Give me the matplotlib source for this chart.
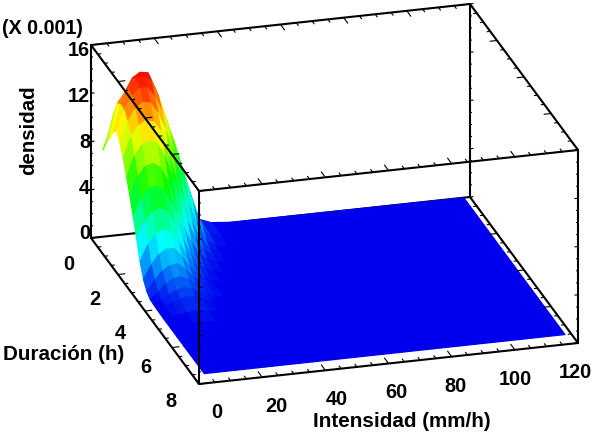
import numpy as np
import matplotlib
matplotlib.use('Agg')
import matplotlib.pyplot as plt
from matplotlib.collections import PolyCollection
from matplotlib.colors import LinearSegmentedColormap, Normalize

plt.rcParams['font.family'] = ['Liberation Sans', 'DejaVu Sans']
plt.rcParams['font.weight'] = 'bold'

# grid
intensidad = [3.8, 6.2, 8.6, 11, 13.4, 15.8, 18.2, 20.6, 23, 25.4, 28, 31, 34, 38, 44, 118]
duracion = [0, 0.25, 0.5, 0.75, 1, 1.25, 1.5, 1.75, 2, 2.25, 2.5, 2.75, 3, 3.25, 3.5, 3.75,
            4, 4.5, 5, 5.5, 6, 6.5, 7, 7.5]
# density (x 0.001), one row per duracion
densidad = [
    [7.2, 8.9, 10, 10.8, 11, 10.6, 9.6, 8.3, 6.7, 5, 3.3, 1.6, .6, .2, .05, 0],
    [8.2, 10.5, 11.6, 12.5, 12.8, 12.3, 11.2, 9.7, 7.8, 5.9, 3.9, 1.9, .7, .22, .05, 0],
    [9, 11.7, 12.6, 13.7, 14.1, 14, 12.6, 10.7, 8.7, 6.6, 4.4, 1.9, .6, .2, .05, 0],
    [9.8, 12, 13.2, 14, 14.1, 13.8, 12.3, 10.4, 8.5, 6.4, 4.2, 1.8, .55, .18, .05, 0],
    [10.3, 11.9, 13, 13.6, 13.6, 12.8, 11.5, 9.8, 7.9, 5.7, 3.5, 1.5, .45, .15, .04, 0],
    [9.7, 11.3, 12.3, 12.8, 12.7, 11.8, 10.4, 8.6, 6.3, 4.2, 2.4, .9, .3, .1, .03, 0],
    [8.8, 10.4, 11.3, 11.7, 11.5, 10.6, 8.5, 6.6, 4.6, 2.9, 1.5, .55, .2, .08, .02, 0],
    [7.6, 9.2, 10.1, 10.4, 10.1, 9, 7.3, 5.2, 3.4, 2, .95, .35, .14, .06, .02, 0],
    [6.4, 7.9, 8.7, 8.9, 8.5, 7.3, 5.4, 3.4, 2.1, 1.1, .5, .2, .1, .04, .02, 0],
    [5, 6.4, 7.2, 7.4, 7, 5.8, 4.4, 2.7, 1.5, .75, .3, .12, .06, .03, .01, 0],
    [3.6, 4.9, 5.6, 5.9, 5.6, 4.5, 3.3, 2, 1.05, .5, .22, .1, .05, .02, .01, 0],
    [2.1, 3.4, 4.2, 4.5, 4.3, 3.4, 2.4, 1.45, .75, .36, .16, .07, .04, .02, .01, 0],
    [1, 2.1, 2.9, 3.3, 3.3, 2.6, 1.7, 1.05, .55, .26, .12, .05, .03, .01, 0, 0],
    [.4, 1.2, 1.9, 2.3, 2.4, 1.9, 1.25, .75, .4, .2, .09, .04, .02, .01, 0, 0],
    [.1, .6, 1.2, 1.6, 1.7, 1.4, .9, .55, .3, .15, .07, .03, .015, 0, 0, 0],
    [.05, .3, .7, 1, 1.2, 1, .65, .4, .2, .1, .05, .02, .01, 0, 0, 0],
    [.03, .15, .4, .65, .8, .7, .45, .28, .15, .07, .035, .015, 0, 0, 0, 0],
    [0, .05, .15, .3, .38, .3, .2, .13, .07, .03, .015, 0, 0, 0, 0, 0],
    [0, .02, .06, .12, .18, .14, .1, .06, .03, .015, 0, 0, 0, 0, 0, 0],
    [0, .01, .02, .05, .08, .06, .04, .03, .01, 0, 0, 0, 0, 0, 0, 0],
    [0, 0, .01, .02, .04, .03, .02, .01, 0, 0, 0, 0, 0, 0, 0, 0],
    [0, 0, 0, .01, .02, .01, .01, 0, 0, 0, 0, 0, 0, 0, 0, 0],
    [0, 0, 0, 0, .01, 0, 0, 0, 0, 0, 0, 0, 0, 0, 0, 0],
    [0, 0, 0, 0, 0, 0, 0, 0, 0, 0, 0, 0, 0, 0, 0, 0],
]
i_ticks = [0, 20, 40, 60, 80, 100, 120]
d_ticks = [0, 2, 4, 6, 8]
z_ticks = [0, 4, 8, 12, 16]


def project(i, d, z):
    # box as seen in the picture, result in pixels
    x = 91 + 379 * i / 120 + 108 * d / 8
    y = 239 - 41 * i / 120 + 146 * d / 8 - 193 * z / 16
    return x, y


fig = plt.figure(figsize=(6, 4.35), dpi=100)
ax = fig.add_axes([0, 0, 1, 1])
ax.set_xlim(0, 600)
ax.set_ylim(435, 0)
ax.axis('off')


def edge(p0, p1, lw=1.5, zorder=3):
    x0, y0 = project(*p0)
    x1, y1 = project(*p1)
    ax.plot([x0, x1], [y0, y1], color='black', lw=lw, zorder=zorder, solid_capstyle='round')


def tick(p, dirn, ln):
    edge(p, (p[0] + dirn[0] * ln, p[1] + dirn[1] * ln, p[2] + dirn[2] * ln), lw=0.8, zorder=3)


# back of the box goes under the surface
edge((0, 0, 0), (0, 0, 16), zorder=1)
edge((0, 0, 0), (120, 0, 0), zorder=1)
edge((0, 0, 16), (120, 0, 16), zorder=1)
edge((120, 0, 0), (120, 0, 16), zorder=1)
edge((0, 0, 0), (0, 8, 0), zorder=1)
edge((120, 0, 0), (120, 8, 0), zorder=1)

# surface, far cells first
cmap = LinearSegmentedColormap.from_list(
    'rainbow3d', ['#0000ee', '#00ffff', '#00ff00', '#ffff00', '#ff0000'], N=80)
polys = []
vals = []
for r in range(len(duracion) - 1):
    for c in range(len(intensidad) - 2, -1, -1):
        corners = [(c, r), (c + 1, r), (c + 1, r + 1), (c, r + 1)]
        polys.append([project(intensidad[a], duracion[b], densidad[b][a]) for a, b in corners])
        vals.append(np.mean([densidad[b][a] for a, b in corners]))
surf = PolyCollection(polys, array=np.array(vals), cmap=cmap, norm=Normalize(0, 14.2),
                      edgecolors='face', linewidths=0.9, zorder=2)
ax.add_collection(surf)

# front of the box
edge((0, 8, 0), (0, 8, 16))
edge((0, 0, 16), (0, 8, 16))
edge((0, 8, 16), (120, 8, 16))
edge((120, 8, 0), (120, 8, 16))
edge((120, 0, 16), (120, 8, 16))
edge((0, 8, 0), (120, 8, 0))

# small ticks on every edge, pointing into the box
for i in range(0, 121, 5):
    ln = 0.3 if i % 20 == 0 else 0.15
    tick((i, 8, 0), (0, -1, 0), ln)
    tick((i, 8, 16), (0, -1, 0), ln)
    tick((i, 0, 16), (0, 1, 0), ln)
for d in np.arange(0, 8.1, 0.5):
    ln = 2.2 if d % 2 == 0 else 1.0
    tick((0, d, 0), (1, 0, 0), ln)
    tick((0, d, 16), (1, 0, 0), ln)
    tick((120, d, 0), (-1, 0, 0), ln)
    tick((120, d, 16), (-1, 0, 0), ln)
for z in range(0, 17):
    ln = 1.0 if z % 4 == 0 else 0.5
    tick((0, 0, z), (1, 0, 0), ln)
    tick((0, 8, z), (1, 0, 0), ln)
    tick((120, 0, z), (1, 0, 0), ln)
    tick((120, 8, z), (-1, 0, 0), ln)

# tick labels
for v in i_ticks:
    ax.text(217 + 358 * v / 120, 413 - 40 * v / 120, str(v), fontsize=14.3, ha='center', va='center')
for v in d_ticks:
    ax.text(69 + 102 * v / 8, 265 + 137 * v / 8, str(v), fontsize=14.3, ha='center', va='center')
for v in z_ticks:
    ax.text(90, 234 - 183 * v / 16, str(v), fontsize=14.3, ha='right', va='center')

ax.text(2, 28, '(X 0.001)', fontsize=14.2, ha='left', va='center')
ax.text(29, 130, 'densidad', fontsize=14.7, rotation=90, ha='center', va='center')
ax.text(3, 355, 'Duración (h)', fontsize=14.9, ha='left', va='center')
ax.text(313, 422, 'Intensidad (mm/h)', fontsize=14.9, ha='left', va='center')

fig.savefig('out.png', dpi=100)
